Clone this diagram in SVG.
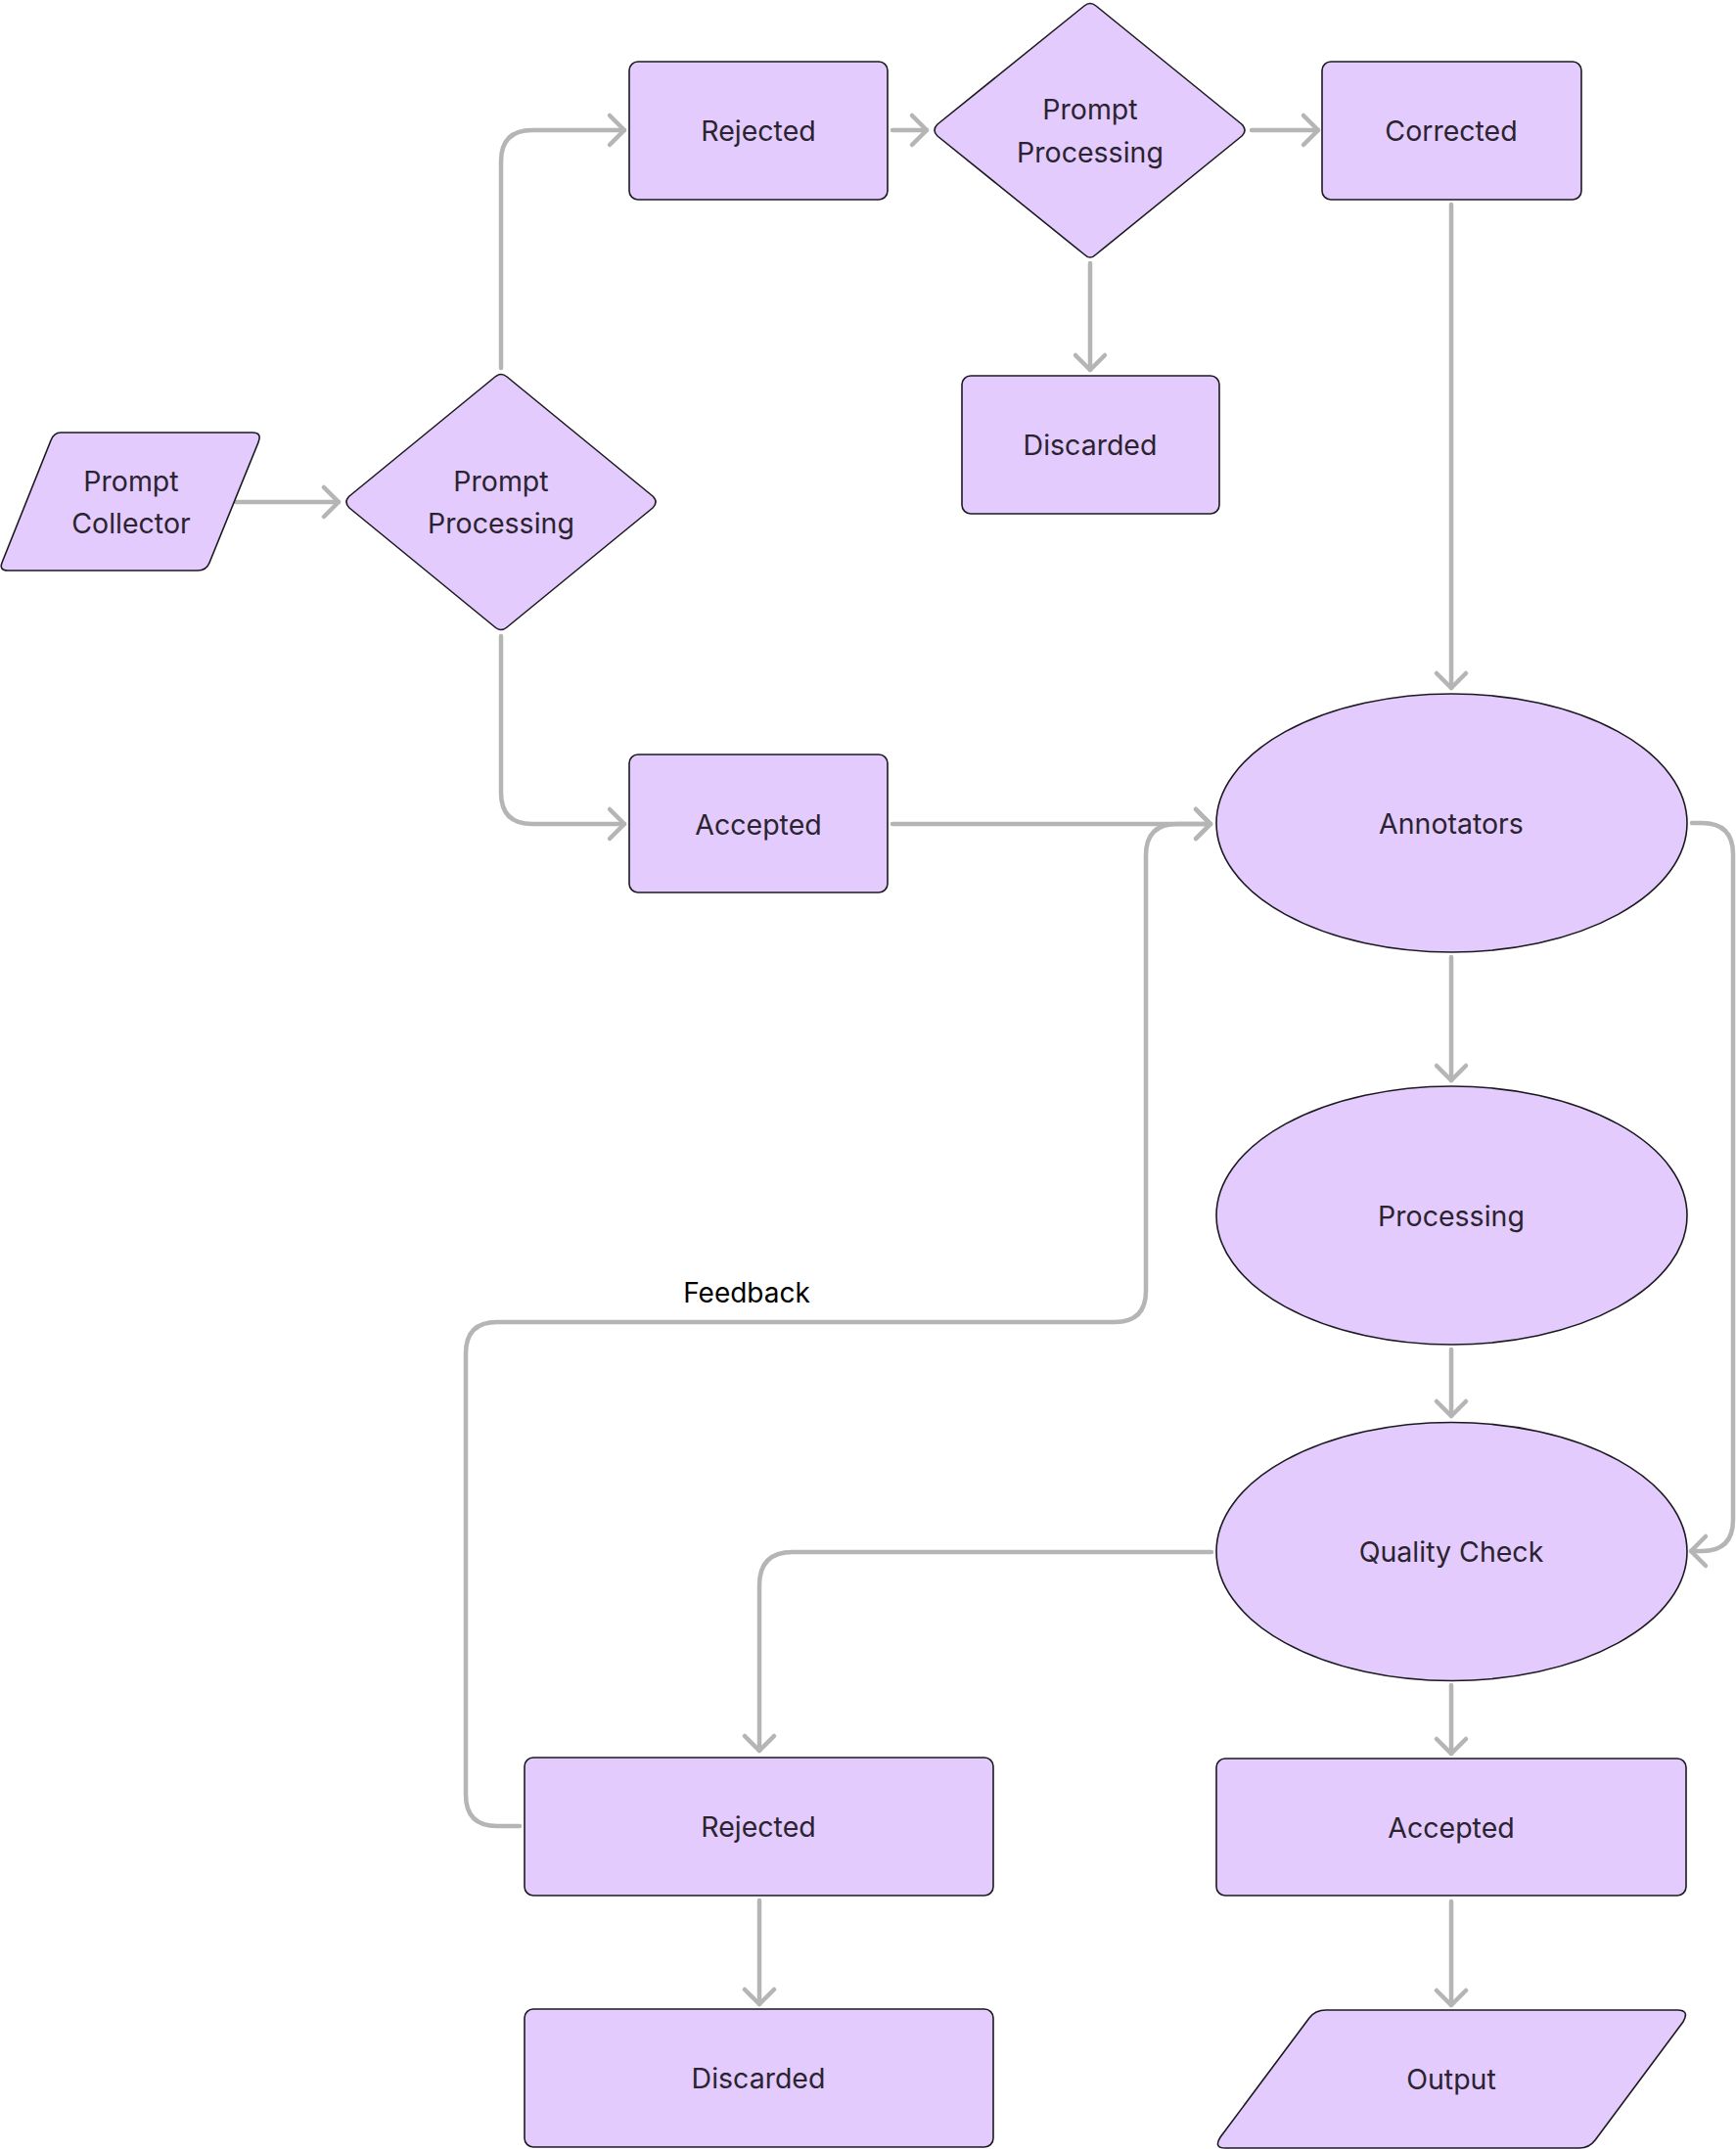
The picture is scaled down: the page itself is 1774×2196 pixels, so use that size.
<svg xmlns="http://www.w3.org/2000/svg" width="1774" height="2196" viewBox="0 0 1774 2196">
<defs>
<style>
.n{fill:#e3ccfd;stroke:#1c1a20;stroke-width:1.6;stroke-linejoin:round}
.t{font-family:Inter,"Liberation Sans",sans-serif;font-size:28.5px;fill:#2b2330;text-anchor:middle;dominant-baseline:central}
.c{fill:none;stroke:#b5b5b5;stroke-width:4.5;stroke-linecap:round;stroke-linejoin:round}
.lbl{font-family:Inter,"Liberation Sans",sans-serif;font-size:28px;fill:#000;text-anchor:middle;dominant-baseline:central}
</style>
<marker id="ah" markerUnits="userSpaceOnUse" viewBox="-20 -20 24 40" markerWidth="24" markerHeight="40" refX="0" refY="0" orient="auto" overflow="visible">
<path d="M-15,-15 L0,0 L-15,15" fill="none" stroke="#b5b5b5" stroke-width="4.5" stroke-linecap="round" stroke-linejoin="round"/>
</marker>
</defs>
<rect width="1774" height="2196" fill="#fff"/>
<g id="connectors">
<path class="c" marker-end="url(#ah)" d="M241,513 L346,513"/>
<path class="c" marker-end="url(#ah)" d="M512,376 L512,165 Q512,133 544,133 L638,133"/>
<path class="c" marker-end="url(#ah)" d="M512,650 L512,810 Q512,842 544,842 L638,842"/>
<path class="c" marker-end="url(#ah)" d="M912,133 L947,133"/>
<path class="c" marker-end="url(#ah)" d="M1279,133 L1347,133"/>
<path class="c" marker-end="url(#ah)" d="M1114,269 L1114,378"/>
<path class="c" marker-end="url(#ah)" d="M1483,209 L1483,703"/>
<path class="c" marker-end="url(#ah)" d="M912,842 L1237,842"/>
<path class="c" marker-end="url(#ah)" d="M1483,978 L1483,1104"/>
<path class="c" marker-end="url(#ah)" d="M1483,1379 L1483,1447"/>
<path class="c" marker-end="url(#ah)" d="M1729,841 L1739,841 Q1771,841 1771,873 L1771,1553 Q1771,1585 1739,1585 L1728,1585"/>
<path class="c" marker-end="url(#ah)" d="M1238,1586 L810,1586 Q776,1586 776,1620 L776,1789"/>
<path class="c" marker-end="url(#ah)" d="M1483,1722 L1483,1792"/>
<path class="c" marker-end="url(#ah)" d="M776,1942 L776,2048"/>
<path class="c" marker-end="url(#ah)" d="M1483,1943 L1483,2049"/>
<path class="c" marker-end="url(#ah)" d="M531,1866 L508,1866 Q476,1866 476,1834 L476,1383 Q476,1351 508,1351 L1139,1351 Q1171,1351 1171,1319 L1171,874 Q1171,842 1203,842 L1237,842"/>
<text class="lbl" x="763" y="1321">Feedback</text>
</g>
<g id="prompt-collector">
<path class="n" d="M62,442 L258,442 Q268,442 264,452 L214,575 Q211,583 202,583 L8,583 Q-1,583 2,575 L52,450 Q55,442 62,442 Z"/>
<text class="t" x="134" y="491">Prompt</text>
<text class="t" x="134" y="534">Collector</text>
</g>
<g id="prompt-processing-1">
<path class="n" d="M506,385 Q512,380 518,385 L667,507 Q673,513 667,519 L518,641 Q512,646 506,641 L357,519 Q351,513 357,507 Z"/>
<text class="t" x="512" y="491">Prompt</text>
<text class="t" x="512" y="534">Processing</text>
</g>
<g id="rejected-top">
<rect class="n" x="643" y="63" width="264" height="141" rx="9"/>
<text class="t" x="775" y="133">Rejected</text>
</g>
<g id="prompt-processing-2">
<path class="n" d="M1108,6 Q1114,1 1120,6 L1269,127 Q1275,133 1269,139 L1120,260 Q1114,266 1108,260 L958,139 Q952,133 958,127 Z"/>
<text class="t" x="1114" y="111">Prompt</text>
<text class="t" x="1114" y="155">Processing</text>
</g>
<g id="corrected">
<rect class="n" x="1351" y="63" width="265" height="141" rx="9"/>
<text class="t" x="1483" y="133">Corrected</text>
</g>
<g id="discarded-top">
<rect class="n" x="983" y="384" width="263" height="141" rx="9"/>
<text class="t" x="1114" y="454">Discarded</text>
</g>
<g id="accepted-top">
<rect class="n" x="643" y="771" width="264" height="141" rx="9"/>
<text class="t" x="775" y="842">Accepted</text>
</g>
<g id="annotators">
<ellipse class="n" cx="1483.5" cy="841" rx="240.5" ry="132"/>
<text class="t" x="1483" y="841">Annotators</text>
</g>
<g id="processing">
<ellipse class="n" cx="1483.5" cy="1242" rx="240.5" ry="132"/>
<text class="t" x="1483" y="1242">Processing</text>
</g>
<g id="quality-check">
<ellipse class="n" cx="1483.5" cy="1585.5" rx="240.5" ry="132"/>
<text class="t" x="1483" y="1585">Quality Check</text>
</g>
<g id="rejected-bottom">
<rect class="n" x="536" y="1796" width="479" height="141" rx="9"/>
<text class="t" x="775" y="1866">Rejected</text>
</g>
<g id="accepted-bottom">
<rect class="n" x="1243" y="1797" width="480" height="140" rx="9"/>
<text class="t" x="1483" y="1867">Accepted</text>
</g>
<g id="discarded-bottom">
<rect class="n" x="536" y="2053" width="479" height="141" rx="9"/>
<text class="t" x="775" y="2123">Discarded</text>
</g>
<g id="output">
<path class="n" d="M1355,2054 L1714,2054 Q1727,2054 1720,2066 L1630,2187 Q1624,2195 1614,2195 L1252,2195 Q1240,2195 1247,2184 L1338,2062 Q1344,2054 1355,2054 Z"/>
<text class="t" x="1483" y="2124">Output</text>
</g>
</svg>
